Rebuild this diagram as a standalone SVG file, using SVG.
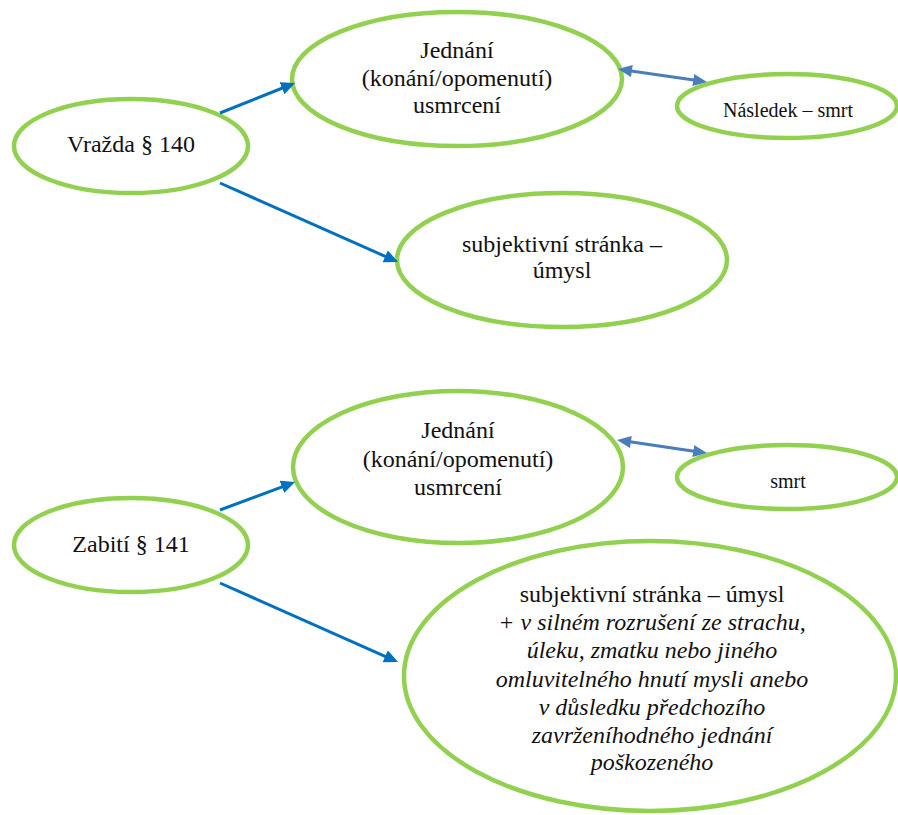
<svg xmlns="http://www.w3.org/2000/svg" width="898" height="815" viewBox="0 0 898 815">
<style>
.node{fill:#ffffff;stroke:#92D050;stroke-width:4.5}
text{font-family:'Liberation Serif','Times New Roman','DejaVu Serif',serif;font-size:24px;fill:#111;text-anchor:middle}
.ts{font-size:20px}
.it{font-style:italic}
.a1{stroke:#0070C0;stroke-width:3;fill:none;marker-end:url(#ah1)}
.a2{stroke:#4A7EBB;stroke-width:3;fill:none;marker-end:url(#ah2);marker-start:url(#ah2s)}
</style>
<defs>
<marker id="ah1" markerUnits="userSpaceOnUse" markerWidth="16" markerHeight="14" refX="6" refY="6.5" orient="auto"><path d="M0,0 L14,6.5 L0,13 z" fill="#0070C0"/></marker>
<marker id="ah2" markerUnits="userSpaceOnUse" markerWidth="16" markerHeight="14" refX="6" refY="6" orient="auto"><path d="M0,0 L14,6 L0,12 z" fill="#4A7EBB"/></marker>
<marker id="ah2s" markerUnits="userSpaceOnUse" markerWidth="16" markerHeight="14" refX="8" refY="6" orient="auto"><path d="M14,0 L0,6 L14,12 z" fill="#4A7EBB"/></marker>
</defs>
<rect width="898" height="815" fill="#ffffff"/>
<g id="vrazda"><ellipse class="node" cx="131" cy="146" rx="117" ry="47"/><text font-family="Liberation Serif, serif" x="131" y="152">Vražda § 140</text></g>
<g id="jednani1"><ellipse class="node" cx="457" cy="79" rx="165" ry="67"/><text x="457" y="58">Jednání</text><text x="457" y="86">(konání/opomenutí)</text><text x="457" y="113">usmrcení</text></g>
<g id="nasledek"><ellipse class="node" cx="787" cy="106" rx="110" ry="32"/><text class="ts" x="788" y="117">Následek – smrt</text></g>
<g id="subjektivni1"><ellipse class="node" cx="562" cy="260" rx="165" ry="67"/><text x="562" y="252">subjektivní stránka –</text><text x="562" y="278">úmysl</text></g>
<g id="zabiti"><ellipse class="node" cx="131" cy="545" rx="117" ry="47"/><text x="131" y="552">Zabití § 141</text></g>
<g id="jednani2"><ellipse class="node" cx="458" cy="467" rx="165" ry="76"/><text x="458" y="438">Jednání</text><text x="458" y="467">(konání/opomenutí)</text><text x="458" y="495">usmrcení</text></g>
<g id="smrt"><ellipse class="node" cx="787" cy="477" rx="110" ry="32"/><text class="ts" x="788" y="488">smrt</text></g>
<g id="subjektivni2"><ellipse class="node" cx="650" cy="676" rx="246" ry="135"/>
<text x="652" y="602">subjektivní stránka – úmysl</text>
<text class="it" x="652" y="630">+ v silném rozrušení ze strachu,</text>
<text class="it" x="652" y="658">úleku, zmatku nebo jiného</text>
<text class="it" x="652" y="687">omluvitelného hnutí mysli anebo</text>
<text class="it" x="652" y="715">v důsledku předchozího</text>
<text class="it" x="652" y="743">zavrženíhodného jednání</text>
<text class="it" x="652" y="770">poškozeného</text>
</g>
<g id="connectors">
<line class="a1" x1="220" y1="113" x2="287.6" y2="86"/>
<line class="a1" x1="220" y1="183" x2="390.7" y2="258.8"/>
<line class="a1" x1="220" y1="510" x2="287.5" y2="484.8"/>
<line class="a1" x1="220" y1="583" x2="390.7" y2="658.8"/>
<line class="a2" x1="625.9" y1="70.2" x2="699.1" y2="80.8"/>
<line class="a2" x1="624.9" y1="441.1" x2="699.1" y2="451.9"/>
</g>
</svg>
